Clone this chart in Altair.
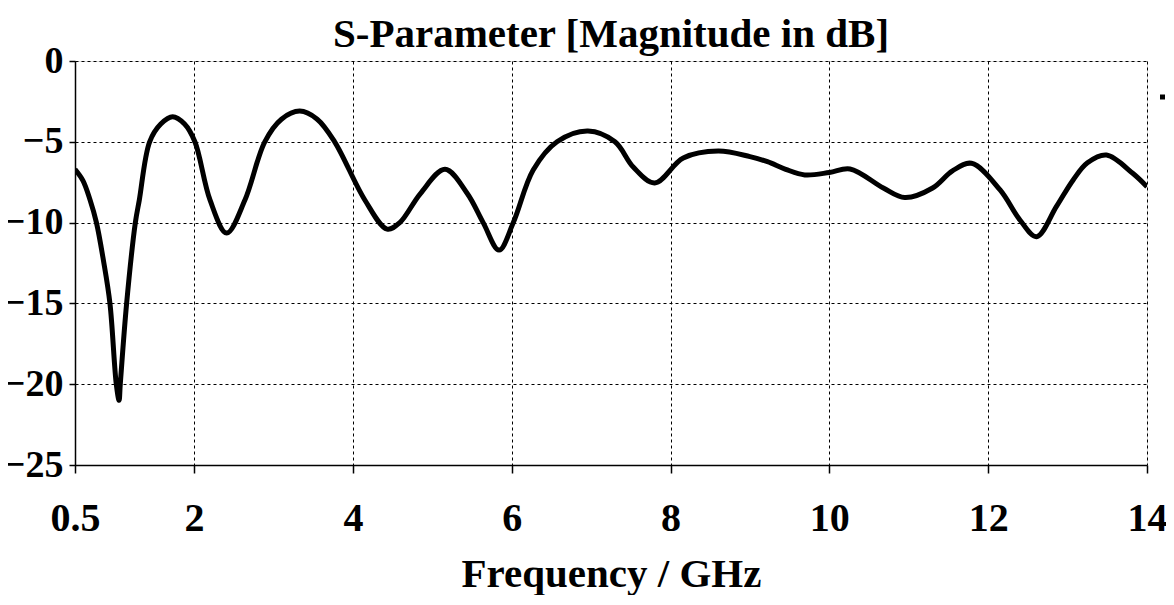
import altair as alt
import pandas as pd

freq = [0.5, 0.6, 0.69, 0.77, 0.86, 0.94, 1.02, 1.055, 1.07, 1.15, 1.26, 1.31, 1.44, 1.58,
        1.73, 1.88, 2.01, 2.2, 2.41, 2.64, 2.89, 3.1, 3.33, 3.55, 3.77, 4.15, 4.43, 4.59,
        4.85, 5.16, 5.44, 5.64, 5.84, 6.02, 6.27, 6.57, 6.96, 7.3, 7.53, 7.8, 8.16, 8.6,
        9.0, 9.22, 9.45, 9.69, 10.0, 10.26, 10.68, 10.95, 11.3, 11.55, 11.79, 12.15, 12.4,
        12.61, 12.86, 13.07, 13.25, 13.49, 13.82, 14.0]
s11_db = [-6.7, -7.4, -8.6, -10.0, -12.4, -15.0, -20.0, -21.0, -20.0, -15.0, -10.0, -8.6, -5.0, -3.9,
          -3.45, -3.9, -5.0, -8.6, -10.65, -8.6, -5.0, -3.6, -3.1, -3.6, -5.0, -8.6, -10.4, -10.0,
          -8.2, -6.7, -8.2, -10.0, -11.7, -10.0, -6.75, -5.0, -4.33, -5.0, -6.56, -7.55, -6.0, -5.57,
          -5.92, -6.23, -6.7, -7.05, -6.9, -6.68, -7.86, -8.45, -7.86, -6.8, -6.33, -7.98, -9.84,
          -10.87, -9.0, -7.36, -6.3, -5.82, -6.95, -7.78]

x_ticks = [0.5, 2, 4, 6, 8, 10, 12, 14]
y_ticks = [-25, -20, -15, -10, -5, 0]
title_text = ["S-Parameter [Magnitude in dB]"]

df = pd.DataFrame({"f": freq, "db": s11_db})

FONT = "Liberation Serif"

line = alt.Chart(df).mark_line(color="black", strokeWidth=5, interpolate="catmull-rom", clip=True).encode(
    x=alt.X("f:Q", scale=alt.Scale(domain=[0.5, 14], nice=False, zero=False),
            axis=alt.Axis(values=x_ticks, title="Frequency / GHz", format="~g",
                          grid=True, gridColor="black", gridDash=[3, 3], gridWidth=1,
                          domainColor="black", domainWidth=1.5,
                          tickColor="black", tickSize=8, tickWidth=1.5,
                          labelFont=FONT, labelFontSize=40, labelFontWeight="bold", labelColor="black",
                          labelBaseline="alphabetic", labelPadding=57, labelFlush=False,
                          titleFont=FONT, titleFontSize=41, titleFontWeight="bold", titleColor="black",
                          titleBaseline="alphabetic", titleY=121)),
    y=alt.Y("db:Q", scale=alt.Scale(domain=[-25, 0], nice=False, zero=False),
            axis=alt.Axis(values=y_ticks, title=None,
                          grid=True, gridColor="black", gridDash=[3, 3], gridWidth=1,
                          domainColor="black", domainWidth=1.5,
                          tickColor="black", tickSize=6, tickWidth=1.5,
                          labelFont=FONT, labelFontSize=38, labelFontWeight="bold", labelColor="black",
                          labelPadding=6, labelFlush=False)),
)

title = alt.Chart(pd.DataFrame({"t": title_text})).mark_text(
    font=FONT, fontSize=41, fontWeight="bold", color="black", align="center",
    baseline="alphabetic", clip=False
).encode(text="t:N", x=alt.value(536), y=alt.value(-14))

marker = alt.Chart(pd.DataFrame({"m": [0]})).mark_rule(color="black", strokeWidth=5, clip=False).encode(
    x=alt.value(1085), x2=alt.value(1090), y=alt.value(36)
)

chart = (line + title + marker).properties(
    width=1072, height=404,
    autosize=alt.AutoSizeParams(type="none"),
    padding={"left": 67, "top": 53, "right": 19, "bottom": 130},
).configure_view(stroke="black", strokeWidth=1.5).configure(background="white")

chart.save("out.html", embed_options={"renderer": "svg", "actions": False})
